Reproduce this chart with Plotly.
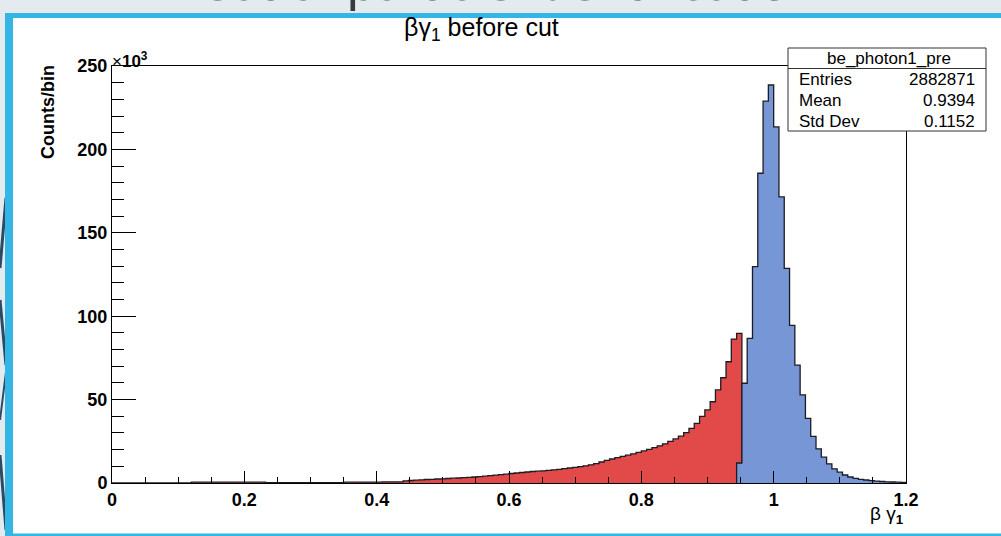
import numpy as np
import plotly.graph_objects as go

# ---------------- data (counts per bin, in units of 10^3) ----------------
BIN_LO = 0.0
BIN_W = 0.008
# red histogram: bins 0..118 (0.000 - 0.952)
red_counts_k = (
    [0.0] * 15 + [0.5] * 14 + [0.2] * 15 + [0.5] * 7 + [0.7] * 4 +
    [1.3, 1.5, 1.7, 1.9, 2.1, 2.2, 2.4, 2.5, 2.7, 2.9,
     3.0, 3.2, 3.4, 3.6, 3.8, 4.1, 4.4, 4.7, 5.0, 5.3,
     5.7, 6.0, 6.3, 6.6, 6.9, 7.1, 7.3, 7.6, 7.9, 8.2,
     8.6, 9.0, 9.4, 9.8, 10.3, 10.9, 11.6, 12.6, 13.6, 14.4,
     15.2, 16.0, 16.7, 17.5, 18.4, 19.2, 20.2, 21.2, 22.3, 23.5,
     24.9, 26.4, 28.1, 30.2, 32.8, 35.8, 40.0, 43.8, 48.7, 55.8,
     63.1, 72.7, 86.3, 89.7]
)
RED_FIRST_BIN = 0
# blue histogram: bins 118..149 (0.944 - 1.200)
blue_counts_k = [12.0, 59.8, 86.7, 129.7, 185.7, 228.9, 238.6, 213.5, 171.5, 128.7,
                 94.5, 70.7, 52.8, 38.8, 28.0, 20.5, 15.5, 11.5, 8.5, 6.5,
                 4.8, 3.6, 2.8, 2.2, 1.8, 1.4, 1.1, 0.9, 0.7, 0.6,
                 0.5, 0.4]
BLUE_FIRST_BIN = 118

x_ticks = [0, 0.2, 0.4, 0.6, 0.8, 1.0, 1.2]
x_ticklabels = ["0", "0.2", "0.4", "0.6", "0.8", "1", "1.2"]
y_ticks = [0, 50, 100, 150, 200, 250]
y_ticklabels = ["0", "50", "100", "150", "200", "250"]

stats_name = "be_photon1_pre"
stats_rows = [("Entries", "2882871"), ("Mean", "0.9394"), ("Std Dev", "0.1152")]

slide_title = "Neutral particle identification"

# ---------------- geometry ----------------
W, H = 1001, 536
L, R, T, B = 112, 906, 66, 483


def xp(px):
    return (px - L) / (R - L)


def yp(py):
    return (B - py) / (B - T)


def step_xy(first_bin, counts):
    n = len(counts)
    edges = BIN_LO + BIN_W * (first_bin + np.arange(n + 1))
    xs = [edges[0]] + list(edges[:-1]) + [edges[-1]]
    ys = [0.0] + list(counts) + [0.0]
    return xs, ys


FONT = "Liberation Sans, Arial, Helvetica, sans-serif"
LINEC = "#1c1c24"

fig = go.Figure()
rx, ry = step_xy(RED_FIRST_BIN, red_counts_k)
fig.add_trace(go.Scatter(x=rx, y=ry, mode="lines", line=dict(shape="hv", color=LINEC, width=1.3),
                         fill="tozeroy", fillcolor="rgb(226,74,74)", hoverinfo="skip"))
bx, by = step_xy(BLUE_FIRST_BIN, blue_counts_k)
fig.add_trace(go.Scatter(x=bx, y=by, mode="lines", line=dict(shape="hv", color=LINEC, width=1.3),
                         fill="tozeroy", fillcolor="rgb(119,150,214)", hoverinfo="skip"))

shapes = []
annos = []

# slide background pieces
BG = "#e3ebef"
BLUE = "#33b5e5"
NAVY = "#2c4a66"


def rect(x0, y0, x1, y1, fill, line=None, lw=0, layer="above"):
    shapes.append(dict(type="rect", xref="paper", yref="paper",
                       x0=xp(x0), x1=xp(x1), y0=yp(y1), y1=yp(y0),
                       fillcolor=fill, line=dict(width=lw, color=line or fill), layer=layer))


def seg(x0, y0, x1, y1, color, w):
    shapes.append(dict(type="line", xref="paper", yref="paper",
                       x0=xp(x0), x1=xp(x1), y0=yp(y0), y1=yp(y1),
                       line=dict(color=color, width=w), layer="above"))


def text(px, py, s, size, xanchor="center", yanchor="middle", color="black", **kw):
    annos.append(dict(xref="paper", yref="paper", x=xp(px), y=yp(py), text=s, showarrow=False,
                      xanchor=xanchor, yanchor=yanchor,
                      font=dict(family=FONT, size=size, color=color), **kw))


rect(0, 0, W, 13, BG)
rect(0, 0, 5, H, BG)
# dark decorative strokes on the slide's left edge
seg(0, 268, 6, 198, NAVY, 3)
seg(0, 300, 6, 365, NAVY, 3)
seg(0, 420, 6, 372, NAVY, 2)
seg(0, 455, 6, 530, NAVY, 3)
rect(5, 13, 13, H, BLUE)
rect(5, 533.5, W, H, BLUE)

# slide title (only its lower part is visible above the frame)
text(163, 13, slide_title, 52, xanchor="left", yanchor="bottom", color="#3a3a3a")
# top blue band drawn above the slide title
annos.append(dict(xref="paper", yref="paper", x=xp(5), y=yp(13), xanchor="left", yanchor="top",
                  text=" ", showarrow=False, width=996, height=4.5, bgcolor=BLUE, borderpad=0,
                  borderwidth=0, font=dict(size=1)))

# stats box
SB_L, SB_R, SB_T, SB_B = 788, 986, 48, 131
rect(SB_L, SB_T, SB_R, SB_B, "white", line="#333333", lw=1)
seg(SB_L, 68.5, SB_R, 68.5, "#333333", 1)
text((SB_L + SB_R) / 2 + 2, 58.5, stats_name, 17)
for i, (k, v) in enumerate(stats_rows):
    yy = 79.5 + 20.8 * i
    text(797, yy, k, 17, xanchor="left")
    text(977, yy, v, 17, xanchor="right")

# titles
text(481, 29, "βγ<sub>1</sub> before cut", 25)
text(48, 112, "<b>Counts/bin</b>", 18, textangle=-90)
text(110, 73, "×<b>10</b><sup><b>3</b></sup>", 17, xanchor="left", yanchor="bottom")
text(906, 515, "β γ<sub><b>1</b></sub>", 19, xanchor="right")

fig.update_layout(
    width=W, height=H,
    margin=dict(l=L, r=W - R, t=T, b=H - B),
    paper_bgcolor="white", plot_bgcolor="white",
    showlegend=False,
    shapes=shapes, annotations=annos,
    xaxis=dict(range=[0, 1.2], tickvals=x_ticks, ticktext=x_ticklabels,
               ticks="inside", ticklen=12, tickwidth=1, tickcolor="black",
               minor=dict(dtick=0.05, ticks="inside", ticklen=6, tickcolor="black", tickwidth=1),
               showline=True, linecolor="black", linewidth=1, mirror=True,
               showgrid=False, zeroline=False,
               tickfont=dict(family=FONT, size=18, color="black", weight="bold")),
    yaxis=dict(range=[0, 250], tickvals=y_ticks, ticktext=y_ticklabels,
               ticks="inside", ticklen=24, tickwidth=1, tickcolor="black",
               minor=dict(dtick=10, ticks="inside", ticklen=12, tickcolor="black", tickwidth=1),
               showline=True, linecolor="black", linewidth=1, mirror=True,
               showgrid=False, zeroline=False,
               tickfont=dict(family=FONT, size=18, color="black", weight="bold")),
)

fig.write_html("out.html")
